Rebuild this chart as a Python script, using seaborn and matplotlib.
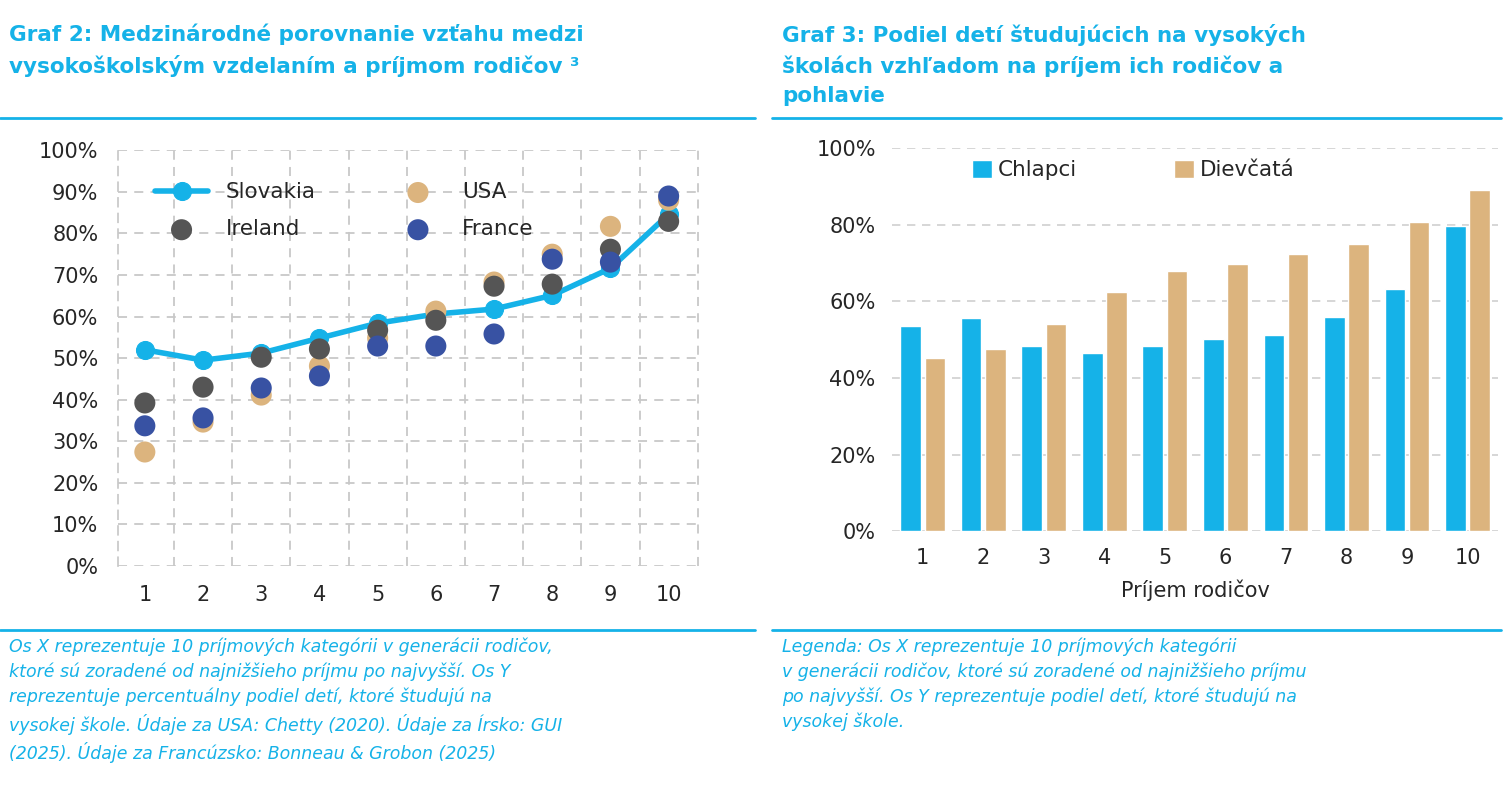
import matplotlib
matplotlib.use("Agg")
import matplotlib.pyplot as plt
import seaborn as sns
import numpy as np
import pandas as pd
from matplotlib.ticker import PercentFormatter

# data
income = list(range(1, 11))
slovakia = [52.0, 49.5, 51.2, 54.8, 58.4, 60.6, 61.8, 65.1, 71.6, 84.6]
ireland = [39.2, 43.0, 50.2, 52.2, 56.7, 59.1, 67.3, 67.8, 76.2, 82.9]
usa = [27.4, 34.6, 41.1, 48.1, 54.8, 61.3, 68.3, 75.0, 81.7, 88.0]
france = [33.7, 35.6, 42.8, 45.7, 52.9, 52.9, 55.8, 73.8, 73.1, 89.0]

boys = [53.5, 55.6, 48.3, 46.5, 48.3, 50.1, 51.2, 55.9, 63.2, 79.6]
girls = [45.2, 47.5, 54.0, 62.4, 67.9, 69.7, 72.3, 74.9, 80.7, 89.0]

CYAN = "#15b2e8"
TAN = "#dcb47e"
GREY = "#555555"
BLUE = "#3852a3"

sns.set_theme(style="white")
plt.rcParams["font.family"] = ["DejaVu Sans"]

fig = plt.figure(figsize=(15.1, 7.87), dpi=100)

# titles
fig.text(0.006, 0.97, "Graf 2: Medzinárodné porovnanie vzťahu medzi\nvysokoškolským vzdelaním a príjmom rodičov \u00b3",
         color=CYAN, fontsize=15.5, fontweight="bold", va="top", linespacing=1.55)
fig.text(0.518, 0.97, "Graf 3: Podiel detí študujúcich na vysokých\nškolách vzhľadom na príjem ich rodičov a\npohlavie",
         color=CYAN, fontsize=15.5, fontweight="bold", va="top", linespacing=1.55)
for x0, x1 in [(0.0, 0.5), (0.511, 0.994)]:
    fig.add_artist(plt.Line2D([x0, x1], [0.85, 0.85], color=CYAN, lw=2))
    fig.add_artist(plt.Line2D([x0, x1], [0.199, 0.199], color=CYAN, lw=2))

fig.text(0.006, 0.19, "Os X reprezentuje 10 príjmových kategórii v generácii rodičov,\nktoré sú zoradené od najnižšieho príjmu po najvyšší. Os Y\n"
         "reprezentuje percentuálny podiel detí, ktoré študujú na\nvysokej škole. Údaje za USA: Chetty (2020). Údaje za Írsko: GUI\n"
         "(2025). Údaje za Francúzsko: Bonneau & Grobon (2025)",
         color=CYAN, fontsize=12.5, style="italic", va="top", linespacing=1.45)
fig.text(0.518, 0.19, "Legenda: Os X reprezentuje 10 príjmových kategórii\nv generácii rodičov, ktoré sú zoradené od najnižšieho príjmu\n"
         "po najvyšší. Os Y reprezentuje podiel detí, ktoré študujú na\nvysokej škole.",
         color=CYAN, fontsize=12.5, style="italic", va="top", linespacing=1.45)

# left chart
ax1 = fig.add_axes([0.078, 0.281, 0.386, 0.528])
df = pd.DataFrame({"x": income, "Slovakia": slovakia, "USA": usa, "Ireland": ireland, "France": france})
sns.lineplot(data=df, x="x", y="Slovakia", ax=ax1, color=CYAN, lw=4, marker="o", ms=13,
             mec=CYAN, label="Slovakia", zorder=2)
sns.scatterplot(data=df, x="x", y="USA", ax=ax1, color=TAN, s=230, edgecolor="none", label="USA", zorder=3)
sns.scatterplot(data=df, x="x", y="Ireland", ax=ax1, color=GREY, s=230, edgecolor="none", label="Ireland", zorder=4)
sns.scatterplot(data=df, x="x", y="France", ax=ax1, color=BLUE, s=230, edgecolor="none", label="France", zorder=5)
ax1.set_xlim(0.535, 10.55)
ax1.set_ylim(0, 100)
ax1.set_yticks(np.arange(0, 101, 10))
ax1.yaxis.set_major_formatter(PercentFormatter(decimals=0))
ax1.set_xticks(income)
ax1.set_xticks(np.arange(1.5, 10.6, 1), minor=True)
ax1.grid(True, which="minor", axis="x", ls=(0, (5, 4)), color="#c8c8c8", lw=1.3)
ax1.grid(True, which="major", axis="y", ls=(0, (5, 4)), color="#c8c8c8", lw=1.3)
ax1.tick_params(axis="both", which="both", length=0, labelsize=15, pad=14)
ax1.set_xlabel("")
ax1.set_ylabel("")
for s in ["top", "right", "bottom"]:
    ax1.spines[s].set_visible(False)
ax1.spines["left"].set_color("#c8c8c8")
ax1.spines["left"].set_linestyle((0, (5, 4)))
h, l = ax1.get_legend_handles_labels()
order = [0, 2, 1, 3]
ax1.legend([h[i] for i in order], [l[i] for i in order], ncol=2, loc="upper left",
           bbox_to_anchor=(0.03, 0.97), frameon=False, fontsize=15.5,
           columnspacing=3.5, handlelength=2.5, labelspacing=0.8)

# right chart
ax2 = fig.add_axes([0.591, 0.325, 0.401, 0.487])
df2 = pd.DataFrame({"x": income * 2, "v": boys + girls,
                    "g": ["Chlapci"] * 10 + ["Dievčatá"] * 10})
sns.barplot(data=df2, x="x", y="v", hue="g", palette=[CYAN, TAN], ax=ax2, width=0.8, gap=0.15, saturation=1)
ax2.set_ylim(0, 100)
ax2.set_yticks(np.arange(0, 101, 20))
ax2.yaxis.set_major_formatter(PercentFormatter(decimals=0))
ax2.grid(True, axis="y", ls=(0, (5, 4)), color="#d0d0d0", lw=1.2)
ax2.set_axisbelow(True)
for s in ax2.spines.values():
    s.set_visible(False)
ax2.tick_params(axis="both", length=0, labelsize=15, pad=12)
ax2.set_xlabel("Príjem rodičov", fontsize=15, labelpad=8)
ax2.set_ylabel("")
ax2.legend(ncol=2, loc="upper left", bbox_to_anchor=(0.1, 1.02), frameon=False, fontsize=15.5,
           columnspacing=4.5, handlelength=0.9, handleheight=0.9, handletextpad=0.3)

fig.savefig("out.png", dpi=100, facecolor="white")
